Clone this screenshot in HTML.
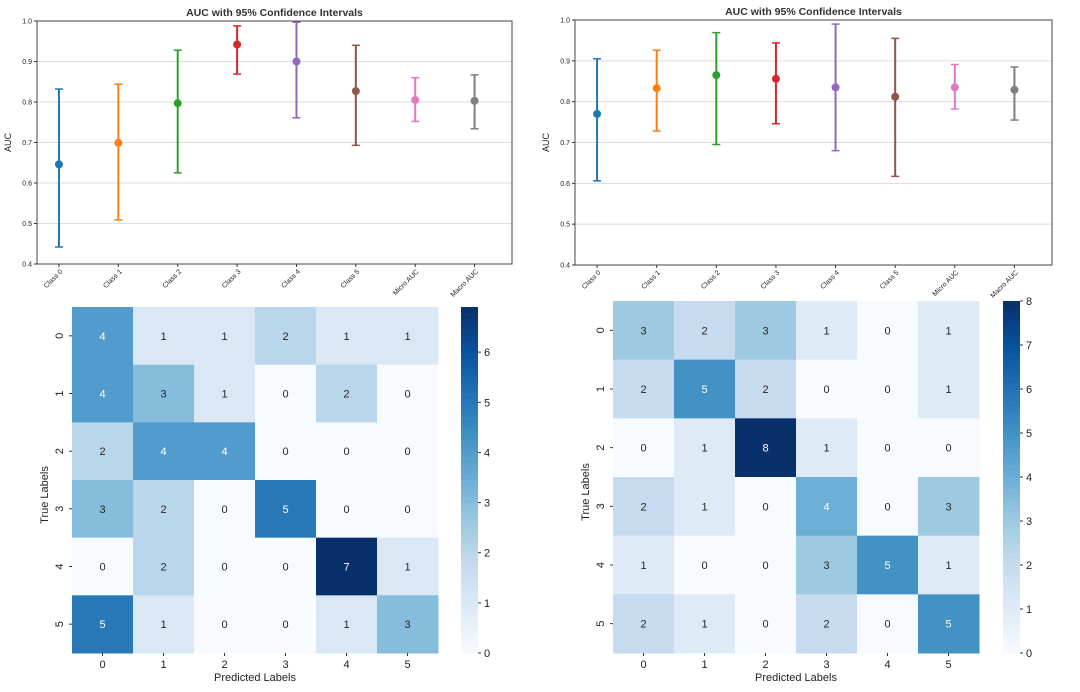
<!DOCTYPE html>
<html><head><meta charset="utf-8">
<style>
html,body{margin:0;padding:0;background:#fff;}
svg{display:block;font-family:"Liberation Sans","DejaVu Sans",sans-serif;}
</style></head>
<body>
<svg id="s" width="1080" height="692" viewBox="0 0 1080 692"></svg>
<script>
const categories = ["Class 0","Class 1","Class 2","Class 3","Class 4","Class 5","Micro AUC","Macro AUC"];
const aucLeft = [0.646,0.699,0.797,0.942,0.900,0.827,0.805,0.803];
const lowLeft = [0.442,0.509,0.625,0.869,0.761,0.693,0.752,0.734];
const highLeft = [0.832,0.844,0.928,0.988,0.997,0.940,0.860,0.867];
const aucRight = [0.770,0.833,0.865,0.856,0.835,0.812,0.835,0.829];
const lowRight = [0.606,0.728,0.695,0.746,0.680,0.617,0.782,0.755];
const highRight = [0.905,0.926,0.969,0.944,0.990,0.955,0.891,0.885];
const yTicks = [0.4,0.5,0.6,0.7,0.8,0.9,1.0];
const cmLeft = [[4,1,1,2,1,1],[4,3,1,0,2,0],[2,4,4,0,0,0],[3,2,0,5,0,0],[0,2,0,0,7,1],[5,1,0,0,1,3]];
const cmRight = [[3,2,3,1,0,1],[2,5,2,0,0,1],[0,1,8,1,0,0],[2,1,0,4,0,3],[1,0,0,3,5,1],[2,1,0,2,0,5]];
const labels = ["0","1","2","3","4","5"];
const cbTicksLeft = [0,1,2,3,4,5,6];
const cbTicksRight = [0,1,2,3,4,5,6,7,8];
const colors = ["#1f77b4","#ff7f0e","#2ca02c","#d62728","#9467bd","#8c564b","#e377c2","#7f7f7f"];

const svg = document.getElementById('s');
const NS = "http://www.w3.org/2000/svg";
function mk(tag, attrs, parent, text){
  const e = document.createElementNS(NS, tag);
  for (const k in attrs) e.setAttribute(k, attrs[k]);
  if (text !== undefined) e.textContent = text;
  (parent||svg).appendChild(e);
  return e;
}
const blues = ["#f7fbff","#deebf7","#c6dbef","#9ecae1","#6baed6","#4292c6","#2171b5","#08519c","#08306b"];
function hex(h){return [parseInt(h.substr(1,2),16),parseInt(h.substr(3,2),16),parseInt(h.substr(5,2),16)];}
function cmap(t){
  t=Math.max(0,Math.min(1,t)); const p=t*8, i=Math.min(7,Math.floor(p)), f=p-i;
  const a=hex(blues[i]), b=hex(blues[i+1]);
  return "rgb("+a.map((v,k)=>Math.round(v+(b[k]-v)*f)).join(",")+")";
}

function aucChart(x0,x1,y0,y1,auc,low,high,name){
  const g = mk('g',{});
  
  
  const yS = v => y1 - (v-0.4)/0.6*(y1-y0);
  const step = (x1-x0)/8;
  const xS = i => x0 + step*(i+0.37);
  const t = mk('text',{x:(x0+x1)/2,y:y0-5,'text-anchor':'middle','font-size':10.5,'font-weight':'bold',fill:'#333'},g,'AUC with 95% Confidence Intervals');
   
  yTicks.forEach(v=>{
    if (v>0.4 && v<1.0) mk('line',{x1:x0,x2:x1,y1:yS(v),y2:yS(v),stroke:'#ddd','stroke-width':1},g);
    mk('line',{x1:x0-3,x2:x0,y1:yS(v),y2:yS(v),stroke:'#333'},g);
    const l = mk('text',{x:x0-5,y:yS(v)+2.5,'text-anchor':'end','font-size':7,fill:'#222'},g,v.toFixed(1));
     
  });
  mk('rect',{x:x0,y:y0,width:x1-x0,height:y1-y0,fill:'none',stroke:'#444','stroke-width':1},g);
  const yl = mk('text',{x:0,y:0,transform:`translate(${x0-26},${(y0+y1)/2}) rotate(-90)`,'text-anchor':'middle','font-size':9,fill:'#222'},g,'AUC');
   
  categories.forEach((c,i)=>{
    const x=xS(i);
    mk('line',{x1:x,x2:x,y1:y1,y2:y1+3,stroke:'#333'},g);
    const l = mk('text',{x:0,y:0,transform:`translate(${x+4},${y1+8}) rotate(-45)`,'text-anchor':'end','font-size':7,fill:'#222'},g,c);
     
    const e = mk('g',{},g);
    
    
    mk('line',{x1:x,x2:x,y1:yS(low[i]),y2:yS(high[i]),stroke:colors[i],'stroke-width':2},e);
    mk('line',{x1:x-4,x2:x+4,y1:yS(low[i]),y2:yS(low[i]),stroke:colors[i],'stroke-width':1.5},e);
    mk('line',{x1:x-4,x2:x+4,y1:yS(high[i]),y2:yS(high[i]),stroke:colors[i],'stroke-width':1.5},e);
    mk('circle',{cx:x,cy:yS(auc[i]),r:4,fill:colors[i]},e);
  });
}

function heatmap(x0,x1,y0,y1,cm,vmax,cbx,cbTicks,name){
  const g = mk('g',{});
  
  
  const cw=(x1-x0)/6, ch=(y1-y0)/6;
  cm.forEach((row,r)=>row.forEach((v,c)=>{
    const cell = mk('rect',{x:x0+c*cw,y:y0+r*ch,width:cw+0.5,height:ch+0.5,fill:cmap(v/vmax)},g);
    
    
    const tx = mk('text',{x:x0+(c+0.5)*cw,y:y0+(r+0.5)*ch+4,'text-anchor':'middle','font-size':11,fill:(v/vmax>0.45?'#fff':'#262626')},g,String(v));
    
    
  }));
  labels.forEach((l,i)=>{
    const x=x0+(i+0.5)*cw, y=y0+(i+0.5)*ch;
    mk('line',{x1:x,x2:x,y1:y1,y2:y1+3,stroke:'#333'},g);
    const xt = mk('text',{x:x,y:y1+15,'text-anchor':'middle','font-size':11,fill:'#222'},g,l);
     
    mk('line',{x1:x0-3,x2:x0,y1:y,y2:y,stroke:'#333'},g);
    const yt = mk('text',{x:0,y:0,transform:`translate(${x0-9},${y}) rotate(-90)`,'text-anchor':'middle','font-size':11,fill:'#222'},g,l);
     
  });
  const xa = mk('text',{x:(x0+x1)/2,y:y1+28,'text-anchor':'middle','font-size':11,fill:'#222'},g,'Predicted Labels');
   
  const ya = mk('text',{x:0,y:0,transform:`translate(${x0-24},${(y0+y1)/2+15}) rotate(-90)`,'text-anchor':'middle','font-size':11,fill:'#222'},g,'True Labels');
   
  const cb = mk('g',{},g);
  
  
  const n=60, h=(y1-y0)/n;
  for(let k=0;k<n;k++) mk('rect',{x:cbx,y:y0+k*h,width:17,height:h+0.6,fill:cmap(1-(k+0.5)/n)},cb);
  cbTicks.forEach(v=>{
    const y=y1-(v/vmax)*(y1-y0);
    mk('line',{x1:cbx+17,x2:cbx+20,y1:y,y2:y,stroke:'#333'},cb);
    const t = mk('text',{x:cbx+23,y:y+4,'font-size':11,fill:'#222'},cb,String(v));
     
  });
}

aucChart(37,512,21,264,aucLeft,lowLeft,highLeft,'auc-chart-left');
aucChart(575,1052,20,265,aucRight,lowRight,highRight,'auc-chart-right');
heatmap(72,438,307,653,cmLeft,6.9,461,cbTicksLeft,'confusion-matrix-left');
heatmap(613,979,301,653,cmRight,8,1003,cbTicksRight,'confusion-matrix-right');
</script>
</body></html>
